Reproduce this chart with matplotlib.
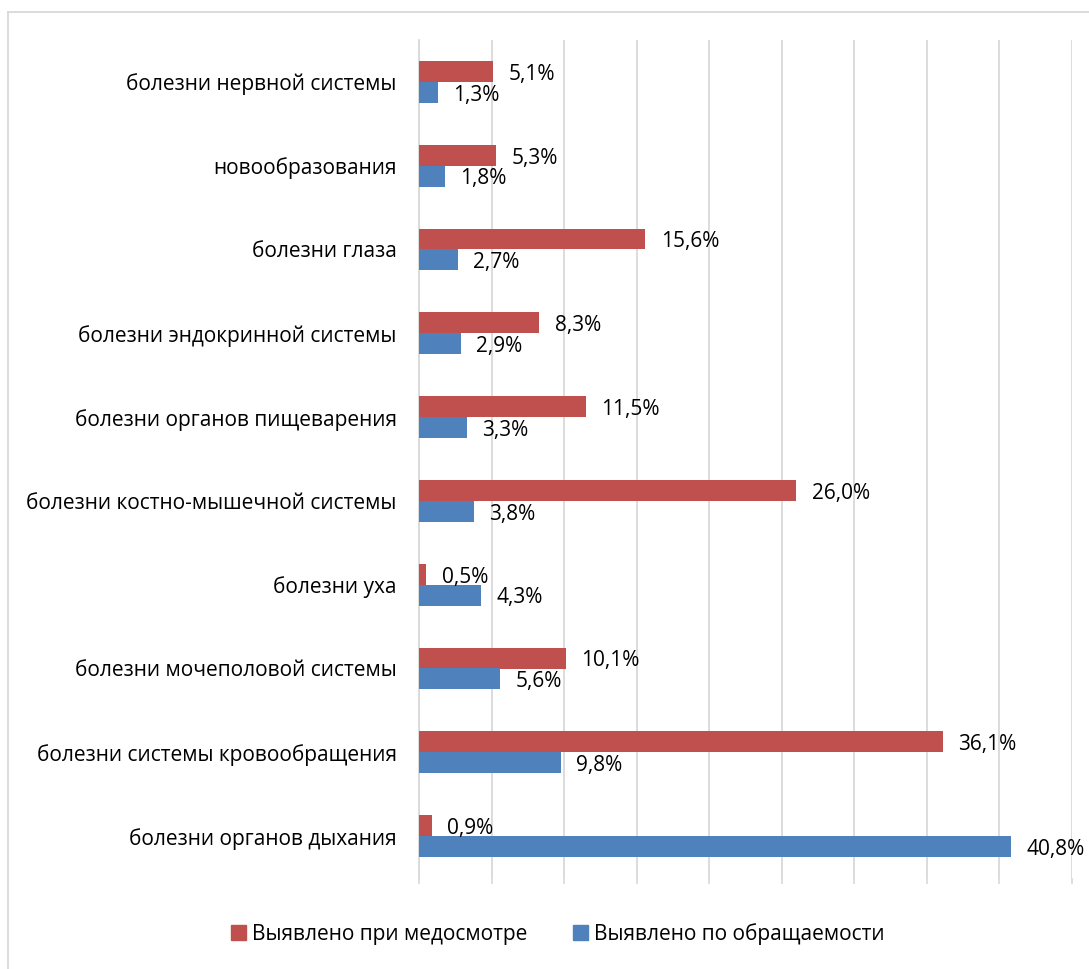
import matplotlib.pyplot as plt
from matplotlib.lines import Line2D
from matplotlib.patches import Patch

plt.rcParams['font.family'] = ['Open Sans', 'DejaVu Sans']

# Категории (снизу вверх, как на графике)
categories = [
    'болезни органов дыхания',
    'болезни системы кровообращения',
    'болезни мочеполовой системы',
    'болезни уха',
    'болезни костно-мышечной системы',
    'болезни органов пищеварения',
    'болезни эндокринной системы',
    'болезни глаза',
    'новообразования',
    'болезни нервной системы',
]
medosmotr = [0.9, 36.1, 10.1, 0.5, 26.0, 11.5, 8.3, 15.6, 5.3, 5.1]
obrasch = [40.8, 9.8, 5.6, 4.3, 3.8, 3.3, 2.9, 2.7, 1.8, 1.3]
series_names = ['Выявлено при медосмотре', 'Выявлено по обращаемости']

RED = '#C0504D'
BLUE = '#4F81BD'
GRID = '#D9D9D9'
FS = 15

W, H = 1089, 969
fig = plt.figure(figsize=(W / 100, H / 100), dpi=100)
ax = fig.add_axes([419 / W, 1 - 878 / H, 653 / W, 838 / H])

y = list(range(len(categories)))
h = 0.25
y_red = [v + h / 2 for v in y]
y_blue = [v - h / 2 for v in y]
ax.barh(y_red, medosmotr, height=h, color=RED, zorder=3)
ax.barh(y_blue, obrasch, height=h, color=BLUE, zorder=3)

# Подписи значений
for yy, v in zip(y_red, medosmotr):
    ax.annotate(f'{v:.1f}%'.replace('.', ','), (v, yy), xytext=(11, -2),
                textcoords='offset points', va='center', ha='left', fontsize=FS)
for yy, v in zip(y_blue, obrasch):
    ax.annotate(f'{v:.1f}%'.replace('.', ','), (v, yy), xytext=(11, -2),
                textcoords='offset points', va='center', ha='left', fontsize=FS)

ax.set_xlim(0, 45)
ax.set_ylim(-0.5, len(categories) - 0.5)
ax.set_xticks(range(0, 46, 5))
ax.set_xticklabels([])
ax.tick_params(axis='x', length=4, color=GRID, width=1.2)
ax.set_yticks(y)
ax.set_yticklabels(categories, fontsize=FS)
ax.tick_params(axis='y', length=0, pad=16)
ax.grid(axis='x', color=GRID, linewidth=1.3, zorder=0)
for s in ['top', 'right', 'bottom']:
    ax.spines[s].set_visible(False)
ax.spines['left'].set_color(GRID)
ax.spines['left'].set_linewidth(1.3)

# Легенда
handles = [Patch(color=RED), Patch(color=BLUE)]
fig.legend(handles, series_names, loc='center', bbox_to_anchor=(558 / W, 1 - 934 / H),
           ncol=2, frameon=False, fontsize=FS, handlelength=0.7, handleheight=0.7,
           handletextpad=0.3, columnspacing=2.2)

# Рамка
fig.add_artist(Line2D([8 / W, 1], [1 - 12 / H, 1 - 12 / H], color=GRID, lw=1.3))
fig.add_artist(Line2D([8 / W, 8 / W], [0, 1 - 12 / H], color=GRID, lw=1.3))

fig.savefig('out.png', dpi=100)
